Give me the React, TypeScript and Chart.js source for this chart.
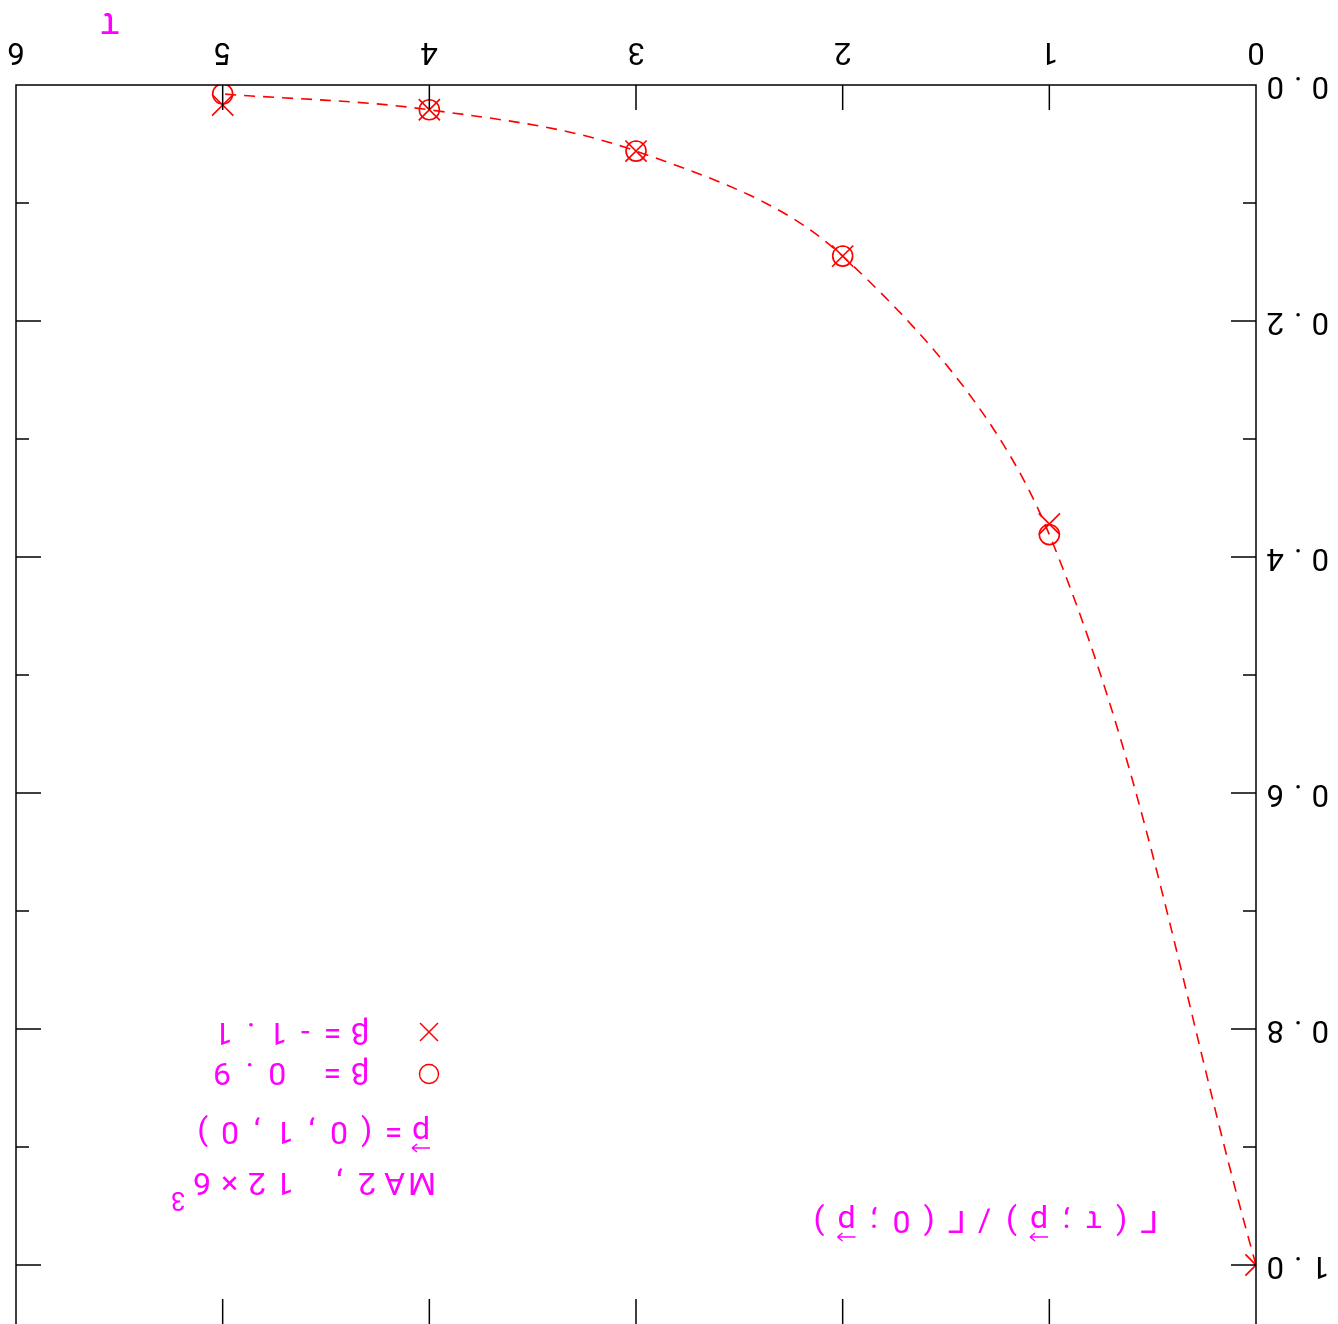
import React, { useEffect, useRef } from 'react';
import { Chart, registerables } from 'chart.js';

Chart.register(...registerables);

const W = 1338;
const H = 1324;
const RED = '#ff0000';
const MAGENTA = '#ff00ff';
const FONT = 'Roboto, "DejaVu Sans", sans-serif';

// ---- data ----
const tauFit = [0, 1, 2, 3, 4, 5];
const fitRatio = [1.0, 0.381, 0.145, 0.056, 0.021, 0.0076];

const tauBetaNeg = [0, 1, 2, 3, 4, 5];
const ratioBetaNeg = [1.0, 0.372, 0.145, 0.056, 0.021, 0.017];

const tauBetaPos = [1, 2, 3, 4, 5];
const ratioBetaPos = [0.381, 0.145, 0.056, 0.021, 0.0076];

const xTickValues = [0, 1, 2, 3, 4, 5, 6];
const xTickLabels = ['0', '1', '2', '3', '4', '5', '6'];
const yTickValues = [0, 0.1, 0.2, 0.3, 0.4, 0.5, 0.6, 0.7, 0.8, 0.9, 1.0];
const yTickLabels = ['0.0', '', '0.2', '', '0.4', '', '0.6', '', '0.8', '', '1.0'];

const yTitleCells = ['Γ', '(', 'τ', ';', 'p⃗', ')', '/', 'Γ', '(', '0', ';', 'p⃗', ')'];
const legendTitleCells = ['M', 'A', '2', ',', ' ', '1', '2', '×', '6'];
const legendTitleSup = '3';
const momentumCells = ['p⃗', '=', '(', '0', ',', '1', ',', '0', ')'];
const betaPosCells = ['β', '=', ' ', '0', '.', '9'];
const betaNegCells = ['β', '=', '-', '1', '.', '1'];
const xTitle = 'τ';

const LS = 9.7; // letter spacing of tick labels

function drawCells(ctx: CanvasRenderingContext2D, cells: string[], x0: number, baseline: number, adv: number) {
  cells.forEach((c, i) => {
    const cx = x0 + i * adv;
    if (c === 'p⃗') {
      ctx.fillText('p', cx, baseline);
      const y = baseline - 26;
      ctx.beginPath();
      ctx.moveTo(cx - 9, y);
      ctx.lineTo(cx + 9, y);
      ctx.moveTo(cx + 9, y);
      ctx.lineTo(cx + 4, y - 4);
      ctx.moveTo(cx + 9, y);
      ctx.lineTo(cx + 4, y + 4);
      ctx.stroke();
    } else if (c !== ' ') {
      ctx.fillText(c, cx, baseline);
    }
  });
}

const spacingPlugin = {
  id: 'spacing',
  beforeDraw(chart: any) {
    (chart.ctx as any).letterSpacing = `${LS}px`;
  },
  afterDraw(chart: any) {
    (chart.ctx as any).letterSpacing = '0px';
  },
};

const framePlugin = {
  id: 'frame',
  afterDatasetsDraw(chart: any) {
    const { ctx, chartArea: a, scales } = chart;
    const x = scales.x;
    const y = scales.y;
    ctx.save();
    ctx.strokeStyle = '#000';
    ctx.lineWidth = 1.5;
    ctx.beginPath();
    ctx.moveTo(a.left, a.top);
    ctx.lineTo(a.left, a.bottom);
    ctx.lineTo(a.right, a.bottom);
    ctx.lineTo(a.right, a.top);
    xTickValues.forEach((v) => {
      if (v <= 0 || v >= 6) return;
      const px = x.getPixelForValue(v);
      ctx.moveTo(px, a.bottom);
      ctx.lineTo(px, a.bottom - 25);
      ctx.moveTo(px, a.top);
      ctx.lineTo(px, a.top + 25);
    });
    yTickValues.forEach((v, i) => {
      const py = y.getPixelForValue(v);
      const len = yTickLabels[i] ? 25 : 13;
      ctx.moveTo(a.left, py);
      ctx.lineTo(a.left + len, py);
      ctx.moveTo(a.right, py);
      ctx.lineTo(a.right - len, py);
    });
    ctx.stroke();
    ctx.restore();
  },
};

const annotatePlugin = {
  id: 'annotate',
  afterDraw(chart: any) {
    const ctx: CanvasRenderingContext2D = chart.ctx;
    ctx.save();
    (ctx as any).letterSpacing = '0px';
    ctx.fillStyle = MAGENTA;
    ctx.strokeStyle = MAGENTA;
    ctx.lineWidth = 1.5;
    ctx.textAlign = 'center';
    ctx.textBaseline = 'alphabetic';
    ctx.font = `32px ${FONT}`;
    drawCells(ctx, yTitleCells, 189, 113, 27.5);
    drawCells(ctx, legendTitleCells, 916, 151, 27.5);
    drawCells(ctx, momentumCells, 917, 202, 27.3);
    drawCells(ctx, betaPosCells, 978, 261, 27.6);
    drawCells(ctx, betaNegCells, 978, 301, 27.3);
    ctx.font = `26px ${FONT}`;
    ctx.fillText(legendTitleSup, 1160, 132);
    ctx.font = `38px ${FONT}`;
    ctx.fillText(xTitle, 1228, 1311);
    // legend markers
    ctx.strokeStyle = RED;
    ctx.beginPath();
    ctx.arc(909, 250, 9.5, 0, Math.PI * 2);
    ctx.stroke();
    ctx.beginPath();
    ctx.moveTo(900, 283);
    ctx.lineTo(918, 301);
    ctx.moveTo(918, 283);
    ctx.lineTo(900, 301);
    ctx.stroke();
    ctx.restore();
  },
};

const zeroPad = (s: any) => {
  s.paddingTop = 0;
  s.paddingBottom = 0;
  s.paddingLeft = 0;
  s.paddingRight = 0;
};

export default function App() {
  const ref = useRef<HTMLCanvasElement | null>(null);
  useEffect(() => {
    if (!ref.current) return;
    const toPts = (xs: number[], ys: number[]) => xs.map((x, i) => ({ x, y: ys[i] }));
    const chart = new Chart(ref.current, {
      type: 'scatter',
      data: {
        datasets: [
          {
            label: 'fit',
            data: toPts(tauFit, fitRatio),
            showLine: true,
            borderColor: RED,
            borderWidth: 1.6,
            borderDash: [11, 8],
            pointRadius: 0,
            tension: 0.35,
            order: 3,
          } as any,
          {
            label: 'β=-1.1',
            data: toPts(tauBetaNeg, ratioBetaNeg),
            showLine: false,
            pointStyle: 'crossRot',
            pointRadius: 15,
            borderColor: RED,
            backgroundColor: 'transparent',
            pointBorderWidth: 1.6,
            order: 2,
          } as any,
          {
            label: 'β= 0.9',
            data: toPts(tauBetaPos, ratioBetaPos),
            showLine: false,
            pointStyle: 'circle',
            pointRadius: 10,
            borderColor: RED,
            backgroundColor: 'transparent',
            pointBorderWidth: 1.6,
            order: 1,
          } as any,
        ],
      },
      options: {
        animation: false,
        responsive: false,
        devicePixelRatio: 1,
        layout: { autoPadding: false, padding: { left: 0, right: 16, top: 0, bottom: 0 } },
        plugins: { legend: { display: false }, tooltip: { enabled: false } },
        scales: {
          x: {
            type: 'linear',
            position: 'bottom',
            min: 0,
            max: 6,
            afterBuildTicks: (s: any) => {
              s.ticks = xTickValues.map((v) => ({ value: v }));
            },
            afterFit: (s: any) => {
              s.height = 85;
              zeroPad(s);
            },
            ticks: {
              callback: (_v: any, i: number) => xTickLabels[i],
              font: { family: FONT, size: 31 },
              color: '#000',
              padding: 16,
              labelOffset: LS / 2,
              maxRotation: 0,
              autoSkip: false,
            },
            grid: { display: false, drawTicks: false },
            border: { display: false },
          },
          y: {
            type: 'linear',
            position: 'left',
            min: 0,
            max: 1.05,
            afterBuildTicks: (s: any) => {
              s.ticks = yTickValues.map((v) => ({ value: v }));
            },
            afterFit: (s: any) => {
              s.width = 82;
              zeroPad(s);
            },
            ticks: {
              callback: (_v: any, i: number) => yTickLabels[i],
              font: { family: FONT, size: 31 },
              color: '#000',
              padding: 1,
              autoSkip: false,
            },
            grid: { display: false, drawTicks: false },
            border: { display: false },
          },
        },
      } as any,
      plugins: [spacingPlugin, framePlugin, annotatePlugin],
    });
    return () => chart.destroy();
  }, []);

  return (
    <div
      style={{
        position: 'fixed',
        left: 0,
        top: 0,
        width: W,
        height: H,
        background: '#fff',
        transform: 'rotate(180deg)',
        overflow: 'hidden',
      }}
    >
      <canvas ref={ref} width={W} height={H} style={{ display: 'block', width: W, height: H }} />
    </div>
  );
}
